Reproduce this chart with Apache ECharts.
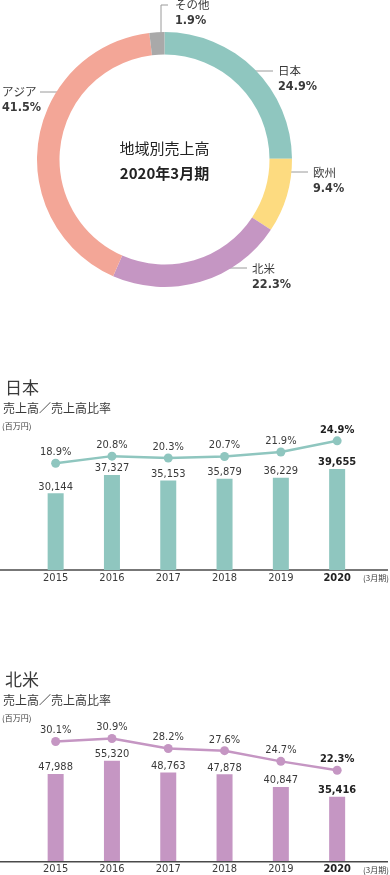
<!DOCTYPE html>
<html><head><meta charset="utf-8">
<script src="https://cdn.jsdelivr.net/npm/echarts@6/dist/echarts.min.js"></script>
<style>html,body{margin:0;padding:0;background:#fff}#c{width:390px;height:875px}</style>
</head><body><div id="c"></div>
<script>
// ---- data ----
const regionNames = ['日本', '欧州', '北米', 'アジア', 'その他'];
const regionShares = [24.9, 9.4, 22.3, 41.5, 1.9];
const years = ['2015', '2016', '2017', '2018', '2019', '2020'];
const japanSales = [30144, 37327, 35153, 35879, 36229, 39655];
const japanRatio = [18.9, 20.8, 20.3, 20.7, 21.9, 24.9];
const naSales = [47988, 55320, 48763, 47878, 40847, 35416];
const naRatio = [30.1, 30.9, 28.2, 27.6, 24.7, 22.3];

// ---- styles ----
const regionColors = ['#8fc6bf', '#fddb80', '#c596c3', '#f3a697', '#a9a9a9'];
const TEAL = '#8fc6bf', PURPLE = '#c596c3';
const NUMFONT = '"DejaVu Sans Condensed","Liberation Sans Narrow","Roboto",sans-serif';
const JPFONT = '"Noto Sans CJK JP",sans-serif';
const TXT = '#3a3a3a';

const pieLabelPos = {
  '日本':  {x: 278, y: 79,   line: [[243, 71], [258, 71], [273, 71]]},
  '欧州':  {x: 313, y: 180.5, line: [[278, 172], [293, 172], [308, 172]]},
  '北米':  {x: 252, y: 276.5, line: [[217, 268], [232, 268], [247, 268]]},
  'アジア': {x: 2,   y: 100,  line: [[70, 92], [55, 92], [40, 92]]},
  'その他': {x: 175, y: 12.5, line: [[161, 43], [161, 5], [168, 5]]}
};

function fmtNum(v) { return v.toLocaleString('en-US'); }

function lastBold(vals) {
  return vals.map((v, i) => i === vals.length - 1
    ? {value: v, label: {fontWeight: 'bold', color: '#222'}} : v);
}

function sectionGraphics(title, yTitle, baseY) {
  return [
    {type: 'text', x: 5, y: yTitle, style: {text: title, font: '17px ' + JPFONT, fill: TXT, verticalAlign: 'middle'}},
    {type: 'text', x: 3, y: yTitle + 20, style: {text: '売上高／売上高比率', font: '12px ' + JPFONT, fill: TXT, verticalAlign: 'middle'}},
    {type: 'text', x: 2, y: yTitle + 38, style: {text: '(百万円)', font: '8px ' + JPFONT, fill: TXT, verticalAlign: 'middle'}},
    {type: 'line', shape: {x1: 0, y1: baseY, x2: 388, y2: baseY}, style: {stroke: '#4a4a4a', lineWidth: 1.5}},
    {type: 'text', x: 363, y: baseY + 8, style: {text: '(3月期)', font: '8px ' + JPFONT, fill: TXT, verticalAlign: 'middle'}}
  ];
}

const chart = echarts.init(document.getElementById('c'), null, {renderer: 'canvas'});

const grids = [
  {left: 27.5, width: 337.8, top: 417.3, height: 152.7},
  {left: 27.5, width: 337.8, top: 679.6, height: 182.1}
];

function xAxisFor(gi) {
  return {
    type: 'category', gridIndex: gi, data: years,
    axisLine: {show: false}, axisTick: {show: false},
    axisLabel: {
      interval: 0, margin: 3, fontSize: 11, color: TXT, fontFamily: NUMFONT,
      formatter: (v) => v === years[years.length - 1] ? '{b|' + v + '}' : v,
      rich: {b: {fontWeight: 'bold', fontSize: 11, fontFamily: NUMFONT, color: '#222'}}
    }
  };
}
function yAxisFor(gi, min, max) {
  return {type: 'value', gridIndex: gi, min: min, max: max, show: false, splitLine: {show: false}};
}

const numLabel = {show: true, position: 'top', distance: 1, fontSize: 11, color: TXT, fontFamily: NUMFONT};

const option = {
  animation: false,
  backgroundColor: '#fff',
  grid: grids,
  xAxis: [xAxisFor(0), xAxisFor(1)],
  yAxis: [
    yAxisFor(0, 0, 60000), yAxisFor(0, -9.7, 31.2),
    yAxisFor(1, 0, 100000), yAxisFor(1, -2.35, 46.9)
  ],
  graphic: [
    {type: 'text', x: 164.5, y: 148, style: {text: '地域別売上高', font: '15px ' + JPFONT, fill: '#222', align: 'center', verticalAlign: 'middle'}},
    {type: 'text', x: 164.5, y: 173, style: {text: '2020年3月期', font: 'bold 15px ' + JPFONT, fill: '#222', align: 'center', verticalAlign: 'middle'}},
    ...sectionGraphics('日本', 388, 570),
    ...sectionGraphics('北米', 680, 861.7)
  ],
  series: [
    {
      type: 'pie', center: [164.5, 159.5], radius: [105, 127.5],
      startAngle: 90, clockwise: true, avoidLabelOverlap: false,
      data: regionNames.map((n, i) => ({name: n, value: regionShares[i], itemStyle: {color: regionColors[i]}})),
      label: {
        show: true, position: 'outside',
        formatter: (p) => '{n|' + p.name + '}\n{v|' + p.value.toFixed(1) + '%}',
        rich: {
          n: {fontSize: 11.5, lineHeight: 16, color: TXT, fontFamily: JPFONT},
          v: {fontSize: 12.5, lineHeight: 16, color: TXT, fontWeight: 'bold', fontFamily: NUMFONT}
        }
      },
      labelLine: {show: true, lineStyle: {color: '#9a9a9a', width: 1}},
      labelLayout: (p) => {
        const pos = pieLabelPos[regionNames[p.dataIndex]];
        return {x: pos.x, y: pos.y, align: 'left', verticalAlign: 'middle', labelLinePoints: pos.line};
      },
      emphasis: {disabled: true}
    },
    {
      type: 'bar', xAxisIndex: 0, yAxisIndex: 0, data: lastBold(japanSales), barWidth: 16,
      itemStyle: {color: TEAL},
      label: Object.assign({}, numLabel, {formatter: (p) => fmtNum(p.value)})
    },
    {
      type: 'line', xAxisIndex: 0, yAxisIndex: 1, data: lastBold(japanRatio),
      symbol: 'circle', symbolSize: 9, lineStyle: {color: TEAL, width: 2.5}, itemStyle: {color: TEAL},
      label: Object.assign({}, numLabel, {formatter: (p) => p.value.toFixed(1) + '%'})
    },
    {
      type: 'bar', xAxisIndex: 1, yAxisIndex: 2, data: lastBold(naSales), barWidth: 16,
      itemStyle: {color: PURPLE},
      label: Object.assign({}, numLabel, {formatter: (p) => fmtNum(p.value)})
    },
    {
      type: 'line', xAxisIndex: 1, yAxisIndex: 3, data: lastBold(naRatio),
      symbol: 'circle', symbolSize: 9, lineStyle: {color: PURPLE, width: 2.5}, itemStyle: {color: PURPLE},
      label: Object.assign({}, numLabel, {formatter: (p) => p.value.toFixed(1) + '%'})
    }
  ]
};
chart.setOption(option);
</script>
</body></html>
